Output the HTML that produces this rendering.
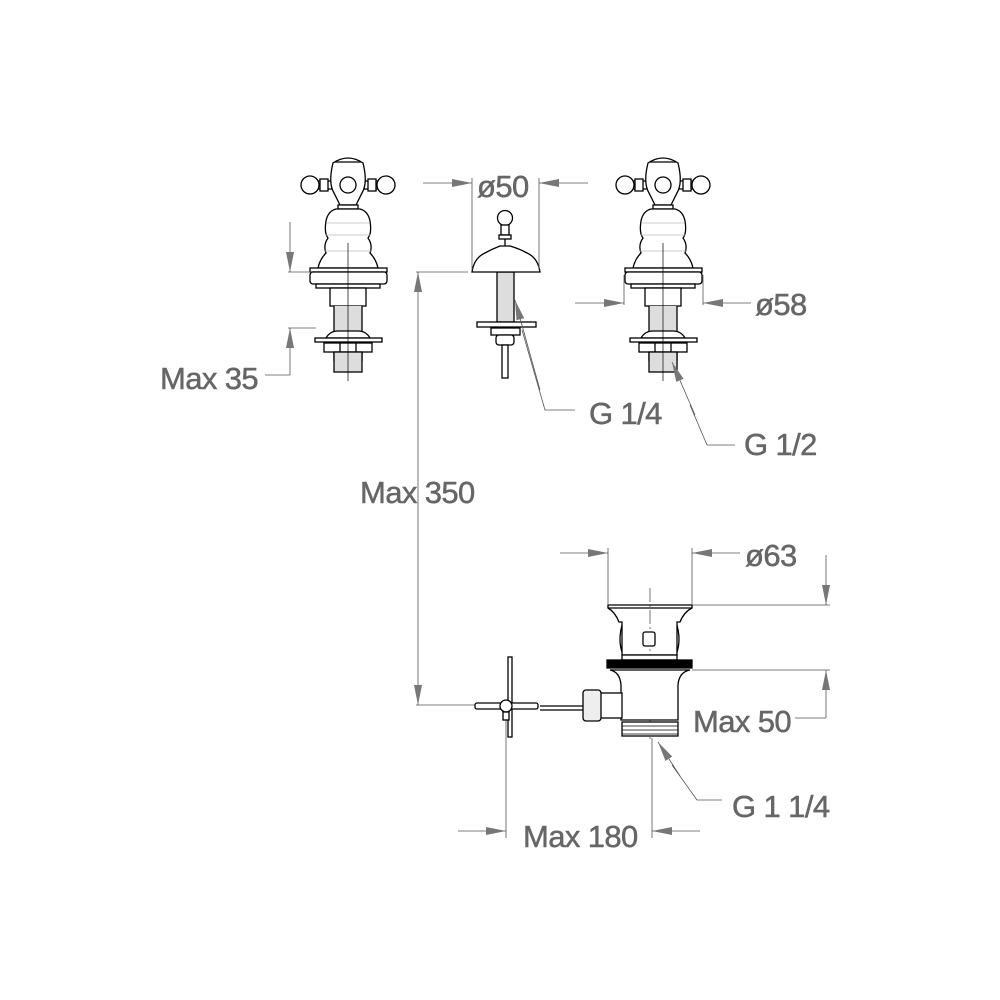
<!DOCTYPE html>
<html><head><style>
html,body{margin:0;padding:0;background:#fff;}
svg{display:block;}
text{font-family:"Liberation Sans",Arial,sans-serif;fill:#666;font-size:31px;letter-spacing:-0.6px;stroke:#666;stroke-width:0.5px;}
</style></head><body>
<svg width="1000" height="1000" viewBox="0 0 1000 1000" xmlns="http://www.w3.org/2000/svg">
<defs>
<marker id="ar" viewBox="0 0 20 8" refX="20" refY="4" markerWidth="20" markerHeight="8" markerUnits="userSpaceOnUse" orient="auto">
<path d="M0,0 L20,4 L0,8 Z" fill="#777"/>
</marker>
<g id="tap" fill="#fff" stroke="#000" stroke-width="1.3">
  <rect x="-43" y="-2" width="86" height="8" fill="#fff"/>
  <circle cx="-38" cy="2" r="9"/>
  <circle cx="38" cy="2" r="9"/>
  <rect x="-28" y="-4" width="8" height="12"/>
  <rect x="20" y="-4" width="8" height="12"/>
  <path d="M-15,-20 Q0,-30 15,-20 Q20,0 14,10 Q10,18 8,22 L-8,22 Q-10,18 -14,10 Q-20,0 -15,-20 Z"/>
  <line x1="-13" y1="-21" x2="13" y2="-21"/>
  <circle cx="0" cy="2" r="8"/>
  <rect x="-10" y="22" width="20" height="4"/>
  <path d="M-12,26 Q-20,28 -22,38 Q-24,50 -20,55 Q-25,62 -22,70 Q-28,76 -30,85 L30,85 Q28,76 22,70 Q25,62 20,55 Q24,50 22,38 Q20,28 12,26 Z"/>
  <line x1="-21" y1="40" x2="21" y2="40" stroke="#bbb" stroke-width="0.8"/>
  <line x1="-22" y1="52" x2="22" y2="52" stroke="#bbb" stroke-width="0.8"/>
  <line x1="-24" y1="68" x2="24" y2="68" stroke="#bbb" stroke-width="0.8"/>
  <rect x="-38" y="85" width="77" height="4"/>
  <rect x="-38" y="89" width="77" height="12" rx="3"/>
  <rect x="-32" y="101" width="64" height="4"/>
  <rect x="-18" y="105" width="36" height="18"/>
  <rect x="-14" y="123" width="28" height="55" fill="#ddd" stroke="none"/>
  <path d="M-14,123 V178 M14,123 V178"/>
  <path d="M-22,155 Q-18,148 -10,148 L10,148 Q18,148 22,155 Z"/>
  <rect x="-33" y="155" width="67" height="4"/>
  <rect x="-24" y="160" width="48" height="9"/>
  <line x1="-8" y1="160" x2="-8" y2="169"/><line x1="8" y1="160" x2="8" y2="169"/>
  <rect x="-14" y="169" width="28" height="20" fill="#ddd"/>
  <line x1="0" y1="60" x2="0" y2="198" stroke-width="0.7"/>
</g>
</defs>

<use href="#tap" x="348" y="183"/>
<use href="#tap" x="663" y="183"/>

<g fill="#fff" stroke="#000" stroke-width="1.3">
  <rect x="497" y="272" width="17" height="50" fill="#ddd"/>
  <circle cx="505" cy="218" r="7.5"/>
  <rect x="501" y="225" width="8" height="10"/>
  <rect x="499" y="235" width="12" height="4"/>
  <line x1="505" y1="239" x2="505" y2="246"/>
  <path d="M472,272 Q474,258 485,253 Q492,249 500,246 L510,246 Q520,249 527,253 Q538,258 540,272 Z"/>
  <rect x="477" y="322" width="59" height="5"/>
  <rect x="491" y="328" width="29" height="7"/>
  <rect x="496" y="335" width="18" height="10" rx="3"/>
  <rect x="502" y="345" width="6" height="33"/>
</g>

<g stroke="#555" stroke-width="0.8" fill="none">
  <line x1="290" y1="222" x2="290" y2="272" marker-end="url(#ar)"/>
  <line x1="288" y1="272" x2="312" y2="272"/>
  <line x1="290" y1="375" x2="290" y2="328" marker-end="url(#ar)"/>
  <line x1="288" y1="328" x2="316" y2="328"/>
  <line x1="265" y1="375" x2="290" y2="375"/>
  <line x1="472" y1="178" x2="472" y2="270"/>
  <line x1="539" y1="178" x2="539" y2="270"/>
  <line x1="423" y1="183" x2="472" y2="183" marker-end="url(#ar)"/>
  <line x1="588" y1="183" x2="539" y2="183" marker-end="url(#ar)"/>
  <line x1="624" y1="275" x2="624" y2="305"/>
  <line x1="703" y1="275" x2="703" y2="305"/>
  <line x1="575" y1="303" x2="624" y2="303" marker-end="url(#ar)"/>
  <line x1="751" y1="303" x2="703" y2="303" marker-end="url(#ar)"/>
  <polyline points="575,410 545,410 522,330"/>
  <line x1="540" y1="390" x2="515" y2="300" marker-end="url(#ar)"/>
  <polyline points="735,445 707,445 690,405"/>
  <line x1="695" y1="415" x2="672" y2="362" marker-end="url(#ar)"/>
  <line x1="418" y1="330" x2="418" y2="272" marker-end="url(#ar)"/>
  <line x1="418" y1="330" x2="418" y2="650"/>
  <line x1="418" y1="650" x2="418" y2="705" marker-end="url(#ar)"/>
  <line x1="416" y1="272" x2="468" y2="272"/>
  <line x1="416" y1="705" x2="478" y2="705"/>
  <line x1="608" y1="548" x2="608" y2="604"/>
  <line x1="692" y1="548" x2="692" y2="604"/>
  <line x1="560" y1="553" x2="608" y2="553" marker-end="url(#ar)"/>
  <line x1="740" y1="553" x2="692" y2="553" marker-end="url(#ar)"/>
  <line x1="826" y1="555" x2="826" y2="605" marker-end="url(#ar)"/>
  <line x1="692" y1="605" x2="830" y2="605"/>
  <line x1="692" y1="670" x2="830" y2="670"/>
  <line x1="826" y1="718" x2="826" y2="670" marker-end="url(#ar)"/>
  <line x1="795" y1="718" x2="826" y2="718"/>
  <line x1="506" y1="712" x2="506" y2="838"/>
  <line x1="652" y1="738" x2="652" y2="838"/>
  <line x1="458" y1="831" x2="506" y2="831" marker-end="url(#ar)"/>
  <line x1="700" y1="831" x2="652" y2="831" marker-end="url(#ar)"/>
  <polyline points="722,800 697,800 672,765"/>
  <line x1="680" y1="776" x2="658" y2="742" marker-end="url(#ar)"/>
  <line x1="650" y1="588" x2="650" y2="740" stroke-dasharray="14,3,2,3"/>
</g>

<g fill="#fff" stroke="#000" stroke-width="1.3">
  <path d="M608,605 L692,605 L692,608 Q684,612 680,622 L677,622 L677,655 L622,655 L622,622 L619,622 Q615,612 608,608 Z" fill="none"/>
  <line x1="608" y1="608" x2="692" y2="608"/>
  <path d="M622,625 Q618,640 622,652 M677,625 Q681,640 677,652" fill="none"/>
  <rect x="643" y="632" width="12" height="14" rx="2"/>
  <rect x="622" y="655" width="55" height="5"/>
  <rect x="607" y="660" width="85" height="8" fill="#000"/>
  <path d="M610,670 Q620,672 621,685 L621,720 L678,720 L678,685 Q679,672 690,670 Z"/>
  <rect x="622" y="722" width="56" height="14"/>
  <line x1="622" y1="726" x2="678" y2="726" stroke-width="0.8"/>
  <line x1="622" y1="730" x2="678" y2="730" stroke-width="0.8"/>
  <line x1="622" y1="734" x2="678" y2="734" stroke-width="0.8"/>
  <rect x="600" y="693" width="22" height="25"/>
  <rect x="583" y="690" width="18" height="31" rx="3" fill="#eee"/>
  <line x1="540" y1="706" x2="583" y2="706"/>
  <line x1="540" y1="710" x2="583" y2="710"/>
  <rect x="508" y="657" width="4" height="80"/>
  <rect x="475" y="703" width="63" height="6" rx="2"/>
  <circle cx="506" cy="706" r="6"/>
  <rect x="503" y="712" width="6" height="8"/>
</g>

<text x="160" y="389">Max 35</text>
<text x="477" y="197">ø50</text>
<text x="755" y="315">ø58</text>
<text x="589" y="424">G 1/4</text>
<text x="744" y="455">G 1/2</text>
<text x="360" y="503">Max 350</text>
<text x="745" y="566">ø63</text>
<text x="693" y="732">Max 50</text>
<text x="732" y="817">G 1 1/4</text>
<text x="523" y="847">Max 180</text>
</svg>
</body></html>
